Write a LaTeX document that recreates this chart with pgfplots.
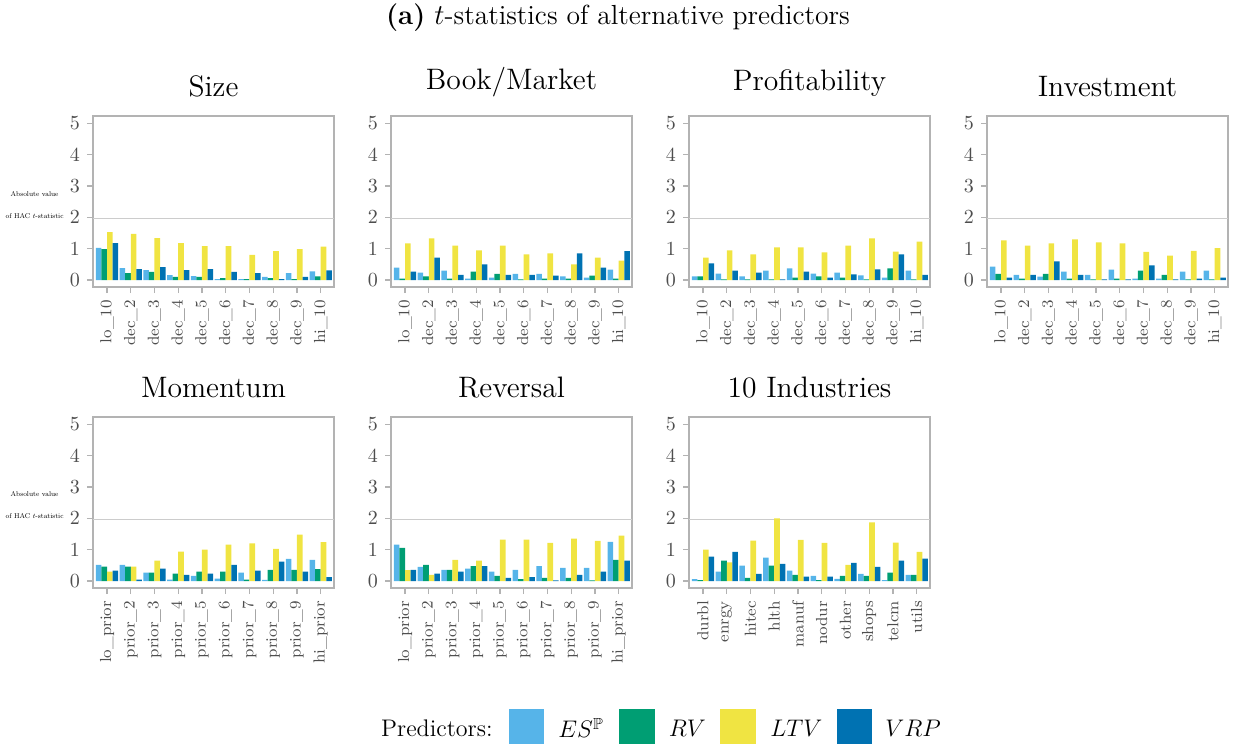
\documentclass[border=0pt]{standalone}
\usepackage{pgfplots}
\usepackage{pgfplotstable}
\usepackage{amssymb}
\pgfplotsset{compat=1.18}
\definecolor{cES}{HTML}{56B4E9}
\definecolor{cRV}{HTML}{009E73}
\definecolor{cLTV}{HTML}{F0E442}
\definecolor{cVRP}{HTML}{0072B2}
\definecolor{frm}{HTML}{B3B3B3}
\definecolor{ticklab}{HTML}{4D4D4D}
\definecolor{refl}{HTML}{CCCCCC}

\pgfplotstableread{
x es rv ltv vrp
0 1.03 0.99 1.53 1.18
1 0.38 0.22 1.47 0.35
2 0.32 0.26 1.34 0.41
3 0.16 0.10 1.18 0.32
4 0.13 0.10 1.08 0.35
5 0.03 0.06 1.08 0.26
6 0.03 0.03 0.80 0.22
7 0.10 0.06 0.92 0.03
8 0.22 0.03 0.99 0.10
9 0.28 0.12 1.07 0.31
}\tabSize
\pgfplotstableread{
x es rv ltv vrp
0 0.40 0.05 1.17 0.27
1 0.24 0.12 1.33 0.72
2 0.30 0.05 1.10 0.17
3 0.05 0.27 0.95 0.50
4 0.08 0.20 1.10 0.17
5 0.20 0.02 0.82 0.17
6 0.20 0.05 0.85 0.14
7 0.12 0.05 0.50 0.85
8 0.08 0.14 0.72 0.40
9 0.33 0.05 0.62 0.92
}\tabBM
\pgfplotstableread{
x es rv ltv vrp
0 0.12 0.12 0.72 0.53
1 0.21 0.02 0.95 0.30
2 0.12 0.02 0.82 0.24
3 0.30 0.02 1.04 0.02
4 0.37 0.08 1.04 0.27
5 0.21 0.12 0.88 0.08
6 0.24 0.08 1.10 0.18
7 0.15 0.02 1.33 0.34
8 0.08 0.37 0.91 0.82
9 0.30 0.02 1.23 0.17
}\tabProf
\pgfplotstableread{
x es rv ltv vrp
0 0.43 0.20 1.27 0.08
1 0.17 0.05 1.10 0.17
2 0.11 0.20 1.17 0.60
3 0.27 0.05 1.30 0.17
4 0.17 0.02 1.20 0.02
5 0.33 0.05 1.17 0.02
6 0.05 0.30 0.90 0.47
7 0.05 0.17 0.78 0.02
8 0.27 0.02 0.93 0.05
9 0.30 0.02 1.02 0.08
}\tabInv
\pgfplotstableread{
x es rv ltv vrp
0 0.52 0.46 0.30 0.33
1 0.52 0.46 0.46 0.05
2 0.27 0.27 0.65 0.40
3 0.05 0.24 0.94 0.20
4 0.17 0.30 1.00 0.24
5 0.08 0.30 1.16 0.52
6 0.27 0.05 1.20 0.33
7 0.04 0.36 1.03 0.62
8 0.71 0.36 1.48 0.30
9 0.68 0.38 1.24 0.13
}\tabMom
\pgfplotstableread{
x es rv ltv vrp
0 1.16 1.06 0.35 0.36
1 0.45 0.52 0.20 0.24
2 0.36 0.36 0.68 0.30
3 0.40 0.48 0.65 0.48
4 0.30 0.17 1.32 0.10
5 0.36 0.06 1.32 0.13
6 0.48 0.10 1.22 0.02
7 0.42 0.10 1.35 0.20
8 0.42 0.02 1.28 0.30
9 1.25 0.68 1.45 0.65
}\tabRev
\pgfplotstableread{
x es rv ltv vrp
0 0.06 0.03 1.00 0.78
1 0.30 0.65 0.60 0.93
2 0.49 0.10 1.29 0.23
3 0.75 0.49 2.00 0.55
4 0.33 0.20 1.31 0.14
5 0.17 0.03 1.22 0.14
6 0.07 0.17 0.52 0.58
7 0.23 0.17 1.87 0.45
8 0.03 0.27 1.23 0.65
9 0.20 0.20 0.93 0.72
}\tabInd

\pgfplotsset{
  panel/.style={
    ybar, scale only axis, width=120.5pt, height=85.5pt,
    anchor=north west,
    xmin=-0.59, xmax=9.56, ymin=-0.22, ymax=5.23,
    enlargelimits=false,
    xtick={0,...,9}, ytick={0,...,5},
    axis line style={frm, line width=0.9pt},
    tick style={frm, line width=0.7pt},
    tick align=outside, tick pos=left,
    major tick length=3pt,
    yticklabel style={font=\fontsize{10}{12}\selectfont, text=ticklab},
    xticklabel style={font=\fontsize{8}{9}\selectfont, text=ticklab, rotate=90, anchor=east},
    title style={font=\fontsize{14.8}{17}\selectfont},
    bar width=0.235,
    extra y ticks={1.96}, extra y tick labels={},
    extra y tick style={grid=major, major grid style={refl, line width=0.8pt}, major tick length=0pt},
  },
  decs/.style={xticklabels={lo\_10,dec\_2,dec\_3,dec\_4,dec\_5,dec\_6,dec\_7,dec\_8,dec\_9,hi\_10}},
  priors/.style={xticklabels={lo\_prior,prior\_2,prior\_3,prior\_4,prior\_5,prior\_6,prior\_7,prior\_8,prior\_9,hi\_prior}},
}
\newcommand{\fourbars}[1]{%
  \addplot[draw=none, fill=cES, bar shift=-0.3525] table[x=x,y=es]{#1};
  \addplot[draw=none, fill=cRV, bar shift=-0.1175] table[x=x,y=rv]{#1};
  \addplot[draw=none, fill=cLTV, bar shift=0.1175] table[x=x,y=ltv]{#1};
  \addplot[draw=none, fill=cVRP, bar shift=0.3525] table[x=x,y=vrp]{#1};
}
\newcommand{\ylab}{\resizebox{29pt}{!}{\fontsize{8}{26}\selectfont\begin{tabular}{@{}c@{}}Absolute value\\of HAC $t$-statistic\end{tabular}}}

\begin{document}
\begin{tikzpicture}
\path[use as bounding box] (0pt,0pt) rectangle (616.5pt,-372.5pt);
\node[font=\fontsize{13.8}{16}\selectfont] at (309pt,-9pt) {\textbf{(a)} $t$-statistics of alternative predictors};

\begin{axis}[panel, decs, at={(46.5pt,-58pt)}, title={Size}]
\fourbars{\tabSize}
\end{axis}
\begin{axis}[panel, decs, at={(195.5pt,-58pt)}, title={Book/Market}]
\fourbars{\tabBM}
\end{axis}
\begin{axis}[panel, decs, at={(344.5pt,-58pt)}, title={Profitability}]
\fourbars{\tabProf}
\end{axis}
\begin{axis}[panel, decs, at={(493.5pt,-58pt)}, title={Investment}]
\fourbars{\tabInv}
\end{axis}
\begin{axis}[panel, priors, at={(46.5pt,-208.5pt)}, title={Momentum}]
\fourbars{\tabMom}
\end{axis}
\begin{axis}[panel, priors, at={(195.5pt,-208.5pt)}, title={Reversal}]
\fourbars{\tabRev}
\end{axis}
\begin{axis}[panel, at={(344.5pt,-208.5pt)}, title={10 Industries},
  xticklabels={durbl,enrgy,hitec,hlth,manuf,nodur,other,shops,telcm,utils}]
\fourbars{\tabInd}
\end{axis}

\node[inner sep=0pt, anchor=east] at (32pt,-101.5pt) {\ylab};
\node[inner sep=0pt, anchor=east] at (32pt,-251.5pt) {\ylab};

% legend
\node[font=\fontsize{12}{14}\selectfont, anchor=east, inner sep=0pt] at (246.5pt,-364pt) {Predictors:};
\fill[cES] (254.25pt,-354.5pt) rectangle (272pt,-372pt);
\node[font=\fontsize{12}{14}\selectfont, anchor=west, inner sep=0pt] at (279pt,-364pt) {$ES^{\mathbb{P}}$};
\fill[cRV] (309.5pt,-354.5pt) rectangle (327.5pt,-372pt);
\node[font=\fontsize{12}{14}\selectfont, anchor=west, inner sep=0pt] at (334.25pt,-364pt) {$RV$};
\fill[cLTV] (360pt,-354.5pt) rectangle (378pt,-372pt);
\node[font=\fontsize{12}{14}\selectfont, anchor=west, inner sep=0pt] at (385pt,-364pt) {$LTV$};
\fill[cVRP] (418.5pt,-354.5pt) rectangle (436pt,-372pt);
\node[font=\fontsize{12}{14}\selectfont, anchor=west, inner sep=0pt] at (442.5pt,-364pt) {$VRP$};
\end{tikzpicture}
\end{document}
